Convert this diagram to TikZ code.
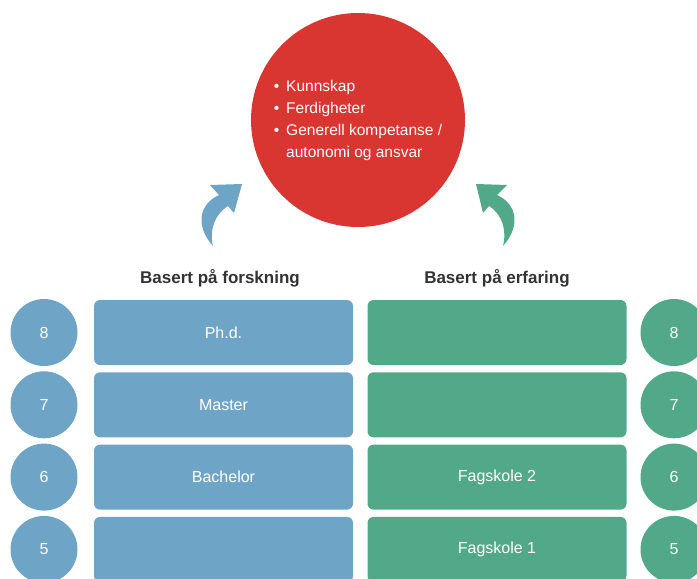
\documentclass[tikz,border=0pt]{standalone}
\usepackage{fontspec}
\setmainfont{Liberation Sans}
\usepackage{tikz}

\definecolor{forskblue}{HTML}{6EA5C7}
\definecolor{erfgreen}{HTML}{52A98A}
\definecolor{maalred}{HTML}{D93631}
\definecolor{headgray}{HTML}{333333}

\begin{document}
\begin{tikzpicture}[x=1pt,y=-1pt]
    \tikzset{
      level/.style={circle, fill=#1, text=white, minimum size=67pt, inner sep=0pt, font=\fontsize{16}{19}\selectfont},
      grade/.style={rounded corners=6pt, fill=#1, text=white, minimum width=259pt, minimum height=65pt, inner sep=0pt, font=\fontsize{16}{19}\selectfont},
      heading/.style={text=headgray, inner sep=0pt, font=\fontsize{17}{20}\selectfont\bfseries}
    }
    \useasboundingbox (0,0) rectangle (697,579);

    % goal
    \node[circle, fill=maalred, minimum size=214pt, inner sep=0pt] (goal) at (358,120) {};
    \node[text=white, inner sep=0pt, font=\fontsize{15.5}{22}\selectfont] (goaltext) at (goal.center)
      {\begin{tabular}{@{}l@{\hspace{7pt}}l@{}}
        \textbullet & Kunnskap\\
        \textbullet & Ferdigheter\\
        \textbullet & Generell kompetanse /\\
                    & autonomi og ansvar
      \end{tabular}};

    % arrows
    \fill[forskblue] (213,246) .. controls (195,226) and (199,204) .. (219,195) -- (210,185) -- (242,184)
      -- (234,213) -- (228,206) .. controls (215,214) and (209,230) .. (213,246) -- cycle;
    \fill[erfgreen] (503,246) .. controls (521,226) and (517,204) .. (497,195) -- (507,185) -- (476,184)
      -- (483,213) -- (489,206) .. controls (502,214) and (507,230) .. (503,246) -- cycle;

    % headings
    \node[heading] (hforsk) at (220,278) {Basert på forskning};
    \node[heading] (herf) at (497,278) {Basert på erfaring};

    % levels left
    \node[level=forskblue] (lv8) at (44,332.5) {8};
    \node[level=forskblue] (lv7) at (44,404.8) {7};
    \node[level=forskblue] (lv6) at (44,477.1) {6};
    \node[level=forskblue] (lv5) at (44,549.4) {5};

    % research based
    \node[grade=forskblue] (fo8) at (223.5,332.5) {Ph.d.};
    \node[grade=forskblue] (fo7) at (223.5,404.8) {Master};
    \node[grade=forskblue] (fo6) at (223.5,477.1) {Bachelor};
    \node[grade=forskblue] (fo5) at (223.5,549.4) {};

    % experience based
    \node[grade=erfgreen] (er8) at (497,332.5) {};
    \node[grade=erfgreen] (er7) at (497,404.8) {};
    \node[grade=erfgreen] (er6) at (497,477.1) {Fagskole 2};
    \node[grade=erfgreen] (er5) at (497,549.4) {Fagskole 1};

    % levels right
    \node[level=erfgreen] (rv8) at (674,332.5) {8};
    \node[level=erfgreen] (rv7) at (674,404.8) {7};
    \node[level=erfgreen] (rv6) at (674,477.1) {6};
    \node[level=erfgreen] (rv5) at (674,549.4) {5};
\end{tikzpicture}
\end{document}
